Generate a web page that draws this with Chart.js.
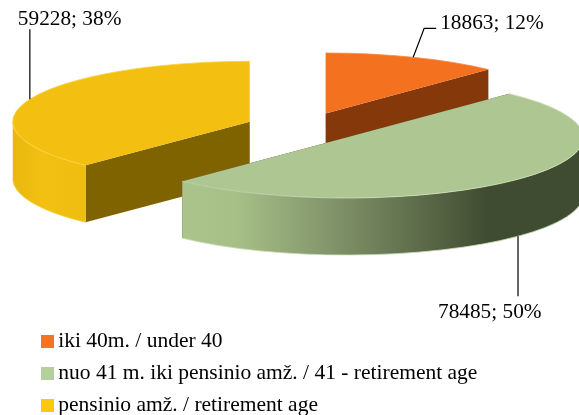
<!DOCTYPE html>
<html>
<head>
<meta charset="utf-8">
<style>
  html, body { margin: 0; padding: 0; background: #fff; }
  #wrap { width: 579px; height: 415px; }
</style>
<script src="https://cdn.jsdelivr.net/npm/chart.js@4/dist/chart.umd.min.js"></script>
</head>
<body>
<div id="wrap"><canvas id="chart" width="579" height="415"></canvas></div>
<script>
var categories = ['iki 40m. / under 40', 'nuo 41 m. iki pensinio amž. / 41 - retirement age', 'pensinio amž. / retirement age'];
var values = [18863, 78485, 59228];
var topColors = ['#f47120', '#aec691', '#f3c012'];
var legendColors = ['#f57322', '#b5d09d', '#fdc90e'];
var faceColors = ['#85380a', '#404c31', '#7f6300'];
var rimColors = ['#f78a44', '#cfe0bb', '#f9d23a'];
var wallStops = [
  [[0, '#85380a'], [1, '#85380a']],
  [[0, '#abc48c'], [0.13, '#a7c088'], [0.39, '#7f9168'], [0.76, '#404c31'], [1, '#404c31']],
  [[0, '#e8b80f'], [0.4, '#f2c012'], [1, '#efbd10']]
];
var drawOrder = [0, 2, 1];

// leader line bends, relative to the rim point at each slice's middle
var leaderBends = [[[11, -29], [23, -29]], [[0, 60]], [[0, -70]]];
var labelOffsets = [[27, -28], [-80, 82], [-12, -74]];

var centerX = 304;
var centerY = 127.3;
var tilt = 0.255;
var depth = 57;
var explode = 58.5;
var pieRadius = 237;

function sliceOrigin(arc) {
  var mid = (arc.startAngle + arc.endAngle) / 2;
  return {
    x: centerX + Math.cos(mid) * explode,
    y: centerY + Math.sin(mid) * explode * tilt
  };
}

function tiltSpace(ctx, arc) {
  var o = sliceOrigin(arc);
  ctx.translate(o.x, o.y);
  ctx.scale(1, tilt);
  ctx.translate(-arc.x, -arc.y);
}

function drawSlice(ctx, arc, i) {
  var r = arc.outerRadius;
  var x = arc.x;
  var y = arc.y;
  var d = depth / tilt;

  ctx.save();
  tiltSpace(ctx, arc);

  /* cut faces */
  ctx.fillStyle = faceColors[i];
  [arc.startAngle, arc.endAngle].forEach(function (a) {
    var ex = x + Math.cos(a) * r;
    var ey = y + Math.sin(a) * r;
    ctx.beginPath();
    ctx.moveTo(x, y);
    ctx.lineTo(ex, ey);
    ctx.lineTo(ex, ey + d);
    ctx.lineTo(x, y + d);
    ctx.closePath();
    ctx.fill();
  });

  /* outer wall, front half only */
  var a0 = Math.max(arc.startAngle, 0);
  var a1 = Math.min(arc.endAngle, Math.PI);
  if (a1 > a0) {
    var grad = ctx.createLinearGradient(x + Math.cos(a1) * r, 0, x + Math.cos(a0) * r, 0);
    wallStops[i].forEach(function (s) { grad.addColorStop(s[0], s[1]); });
    ctx.fillStyle = grad;
    ctx.beginPath();
    ctx.arc(x, y, r, a0, a1);
    ctx.arc(x, y + d, r, a1, a0, true);
    ctx.closePath();
    ctx.fill();
  }

  /* top, through the library's own arc element */
  arc.draw(ctx);

  /* thin highlight on the rims */
  ctx.beginPath();
  ctx.arc(x, y, r, arc.startAngle, arc.endAngle);
  if (a1 > a0) {
    ctx.moveTo(x + Math.cos(a1) * r, y + d + Math.sin(a1) * r);
    ctx.arc(x, y + d, r, a1, a0, true);
  }
  ctx.restore();
  ctx.strokeStyle = rimColors[i];
  ctx.lineWidth = 0.8;
  ctx.stroke();
}

function rimPoint(arc) {
  var mid = (arc.startAngle + arc.endAngle) / 2;
  var o = sliceOrigin(arc);
  var front = Math.sin(mid) > 0 ? depth : 0;
  return {
    x: o.x + Math.cos(mid) * arc.outerRadius,
    y: o.y + Math.sin(mid) * arc.outerRadius * tilt + front
  };
}

var pie3d = {
  id: 'pie3d',
  beforeDatasetsDraw: function (chart) {
    var arcs = chart.getDatasetMeta(0).data;
    drawOrder.forEach(function (i) { drawSlice(chart.ctx, arcs[i], i); });
    return false;
  },
  afterDraw: function (chart) {
    var ctx = chart.ctx;
    var arcs = chart.getDatasetMeta(0).data;
    var total = values.reduce(function (a, b) { return a + b; }, 0);
    arcs.forEach(function (arc, i) {
      var p = rimPoint(arc);
      ctx.save();
      ctx.strokeStyle = '#000';
      ctx.lineWidth = 1.2;
      ctx.beginPath();
      ctx.moveTo(p.x, p.y);
      leaderBends[i].forEach(function (b) { ctx.lineTo(p.x + b[0], p.y + b[1]); });
      ctx.stroke();
      ctx.fillStyle = '#000';
      ctx.font = '21.3px "Liberation Serif"';
      ctx.textBaseline = 'alphabetic';
      ctx.fillText(values[i] + '; ' + Math.round(values[i] / total * 100) + '%', p.x + labelOffsets[i][0], p.y + labelOffsets[i][1]);
      ctx.restore();
    });
  }
};

function legendSwatch(color) {
  var c = document.createElement('canvas');
  c.width = 13;
  c.height = 13;
  var g = c.getContext('2d');
  g.fillStyle = color;
  g.fillRect(0, 0, 13, 13);
  return c;
}

new Chart(document.getElementById('chart'), {
  type: 'pie',
  data: {
    labels: categories,
    datasets: [{
      data: values,
      backgroundColor: topColors,
      borderWidth: 0
    }]
  },
  options: {
    responsive: false,
    animation: false,
    radius: pieRadius,
    layout: { padding: { left: 36, bottom: -11 } },
    plugins: {
      tooltip: { enabled: false },
      legend: {
        position: 'bottom',
        align: 'start',
        labels: {
          color: '#000',
          font: { family: '"Liberation Serif"', size: 21.5 },
          padding: 10.5,
          usePointStyle: true,
          pointStyleWidth: 1,
          generateLabels: function () {
            return categories.map(function (name, i) {
              return {
                text: name,
                fillStyle: legendColors[i],
                strokeStyle: legendColors[i],
                lineWidth: 0,
                pointStyle: legendSwatch(legendColors[i]),
                index: i
              };
            });
          }
        }
      }
    }
  },
  plugins: [pie3d]
});
</script>
</body>
</html>
